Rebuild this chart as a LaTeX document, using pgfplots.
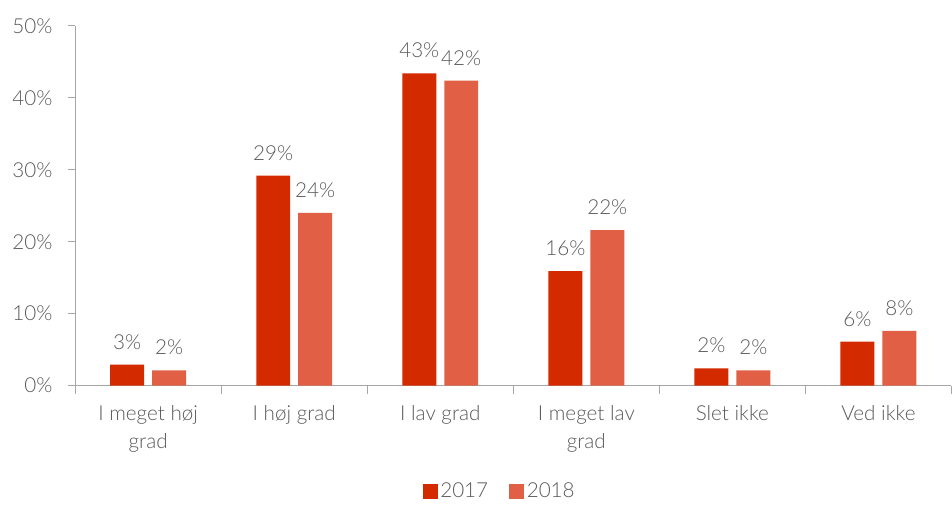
\documentclass[border=0pt]{standalone}
\usepackage{fontspec}
\setmainfont{Lato}[UprightFont=* Light]
\usepackage{pgfplots}
\pgfplotsset{compat=1.18}
\definecolor{ser17}{HTML}{D42A00}
\definecolor{ser18}{HTML}{E05F45}
\definecolor{txt}{HTML}{595959}
\definecolor{axl}{HTML}{A6A6A6}
\newcommand{\chartfont}{\fontsize{15.5}{21}\selectfont}
\begin{document}
\begin{tikzpicture}
\begin{axis}[
    name=main,
    scale only axis,
    width=658pt, height=270pt,
    ybar=0pt,
    bar width=25.5pt,
    xmin=-0.5, xmax=5.5,
    ymin=0, ymax=50,
    xtick={0,...,5},
    xticklabels={{I meget høj\\grad},{I høj grad},{I lav grad},{I meget lav\\grad},{Slet ikke},{Ved ikke}},
    xticklabel style={align=center, font=\chartfont, text=txt, yshift=-6pt},
    minor xtick={-0.5,0.5,1.5,2.5,3.5,4.5,5.5},
    major x tick style={draw=none},
    minor x tick style={draw=axl, line width=0.8pt},
    minor tick length=6pt,
    ytick={0,10,...,50},
    yticklabel={\pgfmathprintnumber{\tick}\%},
    yticklabel style={font=\chartfont, text=txt, xshift=-8pt},
    /pgf/number format/assume math mode=true,
    y tick style={draw=axl, line width=0.8pt},
    tick align=outside,
    major tick length=5.5pt,
    axis x line*=bottom,
    axis y line*=left,
    axis line style={draw=axl, line width=0.8pt, -},
    nodes near coords={\pgfmathprintnumber[fixed,precision=0]{\pgfplotspointmeta}\%},
    nodes near coords style={font=\chartfont, text=txt, yshift=8pt},
    legend style={at={(0.485,-0.255)}, anchor=north, draw=none, legend columns=2,
        font=\chartfont, text=txt,
        /tikz/every even column/.append style={column sep=14pt}},
    legend image code/.code={\fill[#1] (0pt,-5.5pt) rectangle (11pt,5.5pt);},
]
\addplot[fill=ser17, draw=none, bar shift=-15.75pt] coordinates {
    (0,2.9) (1,29.2) (2,43.4) (3,15.9) (4,2.4) (5,6.1)
};
\addplot[fill=ser18, draw=none, bar shift=15.75pt] coordinates {
    (0,2.1) (1,24.0) (2,42.4) (3,21.6) (4,2.1) (5,7.6)
};
\legend{2017, 2018}
\end{axis}
\path ([yshift=19.5pt]main.north);
\path ([xshift=-6pt]current bounding box.west);
\end{tikzpicture}
\end{document}
